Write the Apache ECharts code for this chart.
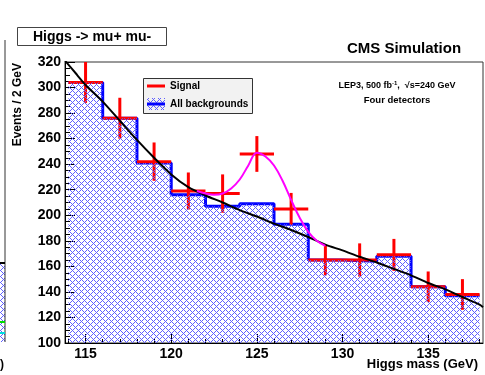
<!DOCTYPE html>
<html>
<head>
<meta charset="utf-8">
<script src="https://cdn.jsdelivr.net/npm/echarts@6/dist/echarts.min.js"></script>
<style>
html,body{margin:0;padding:0;background:#fff;}
#chart{width:485px;height:375px;}
</style>
</head>
<body>
<div id="chart"></div>
<script>
// ---- data ----
const binCenters = [115, 117, 119, 121, 123, 125, 127, 129, 131, 133, 135, 137];
const binHalfWidth = 1;
const backgrounds = [304, 276, 241, 216, 207, 209, 193, 165, 164, 168, 144, 137];
const signalPoints = [304, 276, 242, 219, 217, 248, 205, 165, 165, 169, 144, 138];
const signalErrors = [16, 16, 15, 14.5, 15, 14, 12.5, 12, 13, 12.5, 12, 12];
const fitX = [113.8, 114.5, 115, 116, 117, 118, 119, 120, 121, 122, 123, 124, 125, 126, 127, 128, 129, 130, 131, 132, 133, 134, 135, 136, 137, 138, 138.2];
const fitY = [321, 310, 302, 289, 274, 259, 245, 232, 222, 215.5, 210, 204, 199, 193.5, 188.5, 183, 177, 172.5, 167.5, 163, 158, 153, 147, 142, 136, 130, 128];
const sigCurveX = [121.5, 122, 122.5, 123, 123.5, 124, 124.5, 125, 125.5, 126, 126.5, 127, 127.5, 128, 128.5, 129];
const sigCurveY = [219, 217, 216, 217, 221, 228, 239, 249, 246, 239, 227, 212, 198, 187, 180, 176];
const xMajorTicks = [115, 120, 125, 130, 135];
const xMinorTicks = [114,115,116,117,118,119,120,121,122,123,124,125,126,127,128,129,130,131,132,133,134,135,136,137,138];

// ---- hatch pattern ----
function makeHatch() {
  const p = 6;
  const c = document.createElement('canvas');
  c.width = p; c.height = p;
  const ctx = c.getContext('2d');
  const img = ctx.createImageData(p, p);
  for (let y = 0; y < p; y++) {
    for (let x = 0; x < p; x++) {
      const i = (y * p + x) * 4;
      const on = ((x + y) % p === 0) || (((x - y) % p + p) % p === 0);
      if (on) { img.data[i]=95; img.data[i+1]=95; img.data[i+2]=255; img.data[i+3]=255; }
      else { img.data[i]=255; img.data[i+1]=255; img.data[i+2]=255; img.data[i+3]=0; }
    }
  }
  ctx.putImageData(img, 0, 0);
  return c;
}
const hatch = makeHatch();

const stepData = binCenters.map((c, i) => [c - binHalfWidth, backgrounds[i]]);
stepData.push([binCenters[binCenters.length - 1] + binHalfWidth, backgrounds[backgrounds.length - 1]]);

const chart = echarts.init(document.getElementById('chart'), null, {renderer: 'canvas'});
const FONT = 'Liberation Sans, Arial, Helvetica, sans-serif';

const option = {
  animation: false,
  backgroundColor: '#fff',
  grid: {left: 65, right: 2, top: 62, bottom: 32, show: true, borderColor: '#333', borderWidth: 1, backgroundColor: 'transparent'},
  xAxis: [{
    type: 'value', min: 113.8, max: 138.2,
    axisLine: {show: true, lineStyle: {color: '#000', width: 1}},
    axisTick: {show: true, inside: true, length: 9, customValues: xMajorTicks, lineStyle: {color: '#000'}},
    axisLabel: {show: true, customValues: xMajorTicks, margin: 4, color: '#000', fontFamily: FONT, fontWeight: 'bold', fontSize: 14},
    splitLine: {show: false}
  }, {
    type: 'value', min: 113.8, max: 138.2, position: 'bottom',
    axisLine: {show: false},
    axisTick: {show: true, inside: true, length: 4, customValues: xMinorTicks, lineStyle: {color: '#000'}},
    axisLabel: {show: false},
    splitLine: {show: false}
  }],
  yAxis: {
    type: 'value', min: 100, max: 320, interval: 20,
    axisLine: {show: true, lineStyle: {color: '#000', width: 1}},
    axisTick: {show: true, inside: true, length: 10, lineStyle: {color: '#000'}},
    minorTick: {show: true, splitNumber: 4, length: 5, lineStyle: {color: '#000'}},
    axisLabel: {margin: 4, color: '#000', fontFamily: FONT, fontWeight: 'bold', fontSize: 14},
    splitLine: {show: false}
  },
  series: [
    {
      name: 'bkgLine', type: 'line', step: 'end', data: stepData, symbol: 'none', z: 2,
      lineStyle: {color: '#0000ff', width: 3}
    },
    {
      name: 'Signal', type: 'custom', z: 3, clip: true,
      data: binCenters.map((c, i) => [c, signalPoints[i], signalErrors[i]]),
      renderItem: function (params, api) {
        const x = api.value(0), y = api.value(1), e = api.value(2);
        const p = api.coord([x, y]);
        const l = api.coord([x - binHalfWidth, y]);
        const r = api.coord([x + binHalfWidth, y]);
        const t = api.coord([x, y + e]);
        const b = api.coord([x, y - e]);
        return {type: 'group', children: [
          {type: 'line', shape: {x1: l[0], y1: p[1], x2: r[0], y2: p[1]}, style: {stroke: '#ff0000', lineWidth: 3}},
          {type: 'line', shape: {x1: p[0], y1: t[1], x2: p[0], y2: b[1]}, style: {stroke: '#ff0000', lineWidth: 3}}
        ]};
      }
    },
    {
      name: 'bkgFill', type: 'line', step: 'end', data: stepData, symbol: 'none', z: 4,
      lineStyle: {width: 0, color: 'transparent'},
      areaStyle: {origin: 'start', color: {image: hatch, repeat: 'repeat'}, opacity: 1}
    },
    {
      name: 'fit', type: 'line', data: fitX.map((x, i) => [x, fitY[i]]), smooth: 0.3, symbol: 'none', z: 6,
      lineStyle: {color: '#000', width: 2}
    },
    {
      name: 'sigCurve', type: 'line', data: sigCurveX.map((x, i) => [x, sigCurveY[i]]), smooth: 0.4, symbol: 'none', z: 6,
      lineStyle: {color: '#ff00ff', width: 2}
    }
  ],
  graphic: [
    // fragments of neighbouring panel at left edge
    {type: 'rect', shape: {x: 0, y: 263, width: 5, height: 79}, style: {fill: {image: hatch, repeat: 'repeat'}}, z: 1},
    {type: 'line', shape: {x1: 5, y1: 40, x2: 5, y2: 342}, style: {stroke: '#333', lineWidth: 1}, z: 2},
    {type: 'line', shape: {x1: 0, y1: 263, x2: 5, y2: 263}, style: {stroke: '#000', lineWidth: 2}, z: 2},
    {type: 'line', shape: {x1: 0, y1: 322, x2: 5, y2: 322}, style: {stroke: '#00dd00', lineWidth: 2}, z: 2},
    {type: 'line', shape: {x1: 0, y1: 333, x2: 5, y2: 333}, style: {stroke: '#00dddd', lineWidth: 2}, z: 2},
    {type: 'text', x: 0, y: 365, style: {text: ')', font: 'bold 12px ' + FONT, fill: '#000', verticalAlign: 'middle'}},
    // title box
    {type: 'rect', shape: {x: 17.5, y: 27.5, width: 149, height: 18}, style: {fill: '#fff', stroke: '#444', lineWidth: 1}, z: 10},
    {type: 'text', x: 92, y: 37, z: 11, style: {text: 'Higgs -> mu+ mu-', font: 'bold 14px ' + FONT, fill: '#000', align: 'center', verticalAlign: 'middle'}},
    {type: 'text', x: 404, y: 49, z: 11, style: {text: 'CMS Simulation', font: 'bold 15px ' + FONT, fill: '#000', align: 'center', verticalAlign: 'middle'}},
    // axis titles
    {type: 'text', x: 18, y: 63, rotation: Math.PI / 2, z: 11, style: {text: 'Events / 2 GeV', font: 'bold 12px ' + FONT, fill: '#000', align: 'right', verticalAlign: 'middle'}},
    {type: 'text', x: 478, y: 364, z: 11, style: {text: 'Higgs mass (GeV)', font: 'bold 13px ' + FONT, fill: '#000', align: 'right', verticalAlign: 'middle'}},
    // legend
    {type: 'rect', shape: {x: 143.5, y: 78.5, width: 109, height: 35}, style: {fill: '#f2f2f2', stroke: '#333', lineWidth: 1}, z: 10},
    {type: 'line', shape: {x1: 147, y1: 86, x2: 165, y2: 86}, style: {stroke: '#ff0000', lineWidth: 3}, z: 11},
    {type: 'text', x: 170, y: 86.5, z: 11, style: {text: 'Signal', font: 'bold 10px ' + FONT, fill: '#000', verticalAlign: 'middle'}},
    {type: 'rect', shape: {x: 147, y: 98, width: 18, height: 12}, style: {fill: {image: hatch, repeat: 'repeat'}}, z: 11},
    {type: 'line', shape: {x1: 147, y1: 104, x2: 165, y2: 104}, style: {stroke: '#0000ff', lineWidth: 3}, z: 12},
    {type: 'text', x: 170, y: 104.5, z: 11, style: {text: 'All backgrounds', font: 'bold 10px ' + FONT, fill: '#000', verticalAlign: 'middle'}},
    // annotation
    {type: 'text', x: 397, y: 86, z: 11, style: {
      text: 'LEP3, 500 fb{sup|-1},  √s=240 GeV', font: 'bold 9px ' + FONT, fill: '#000', align: 'center', verticalAlign: 'middle',
      rich: {sup: {fontSize: 6, fontWeight: 'bold', fontFamily: FONT, fill: '#000', padding: [0, 0, 5, 0]}}
    }},
    {type: 'text', x: 397, y: 100, z: 11, style: {text: 'Four detectors', font: 'bold 9.5px ' + FONT, fill: '#000', align: 'center', verticalAlign: 'middle'}}
  ]
};
chart.setOption(option);
</script>
</body>
</html>
